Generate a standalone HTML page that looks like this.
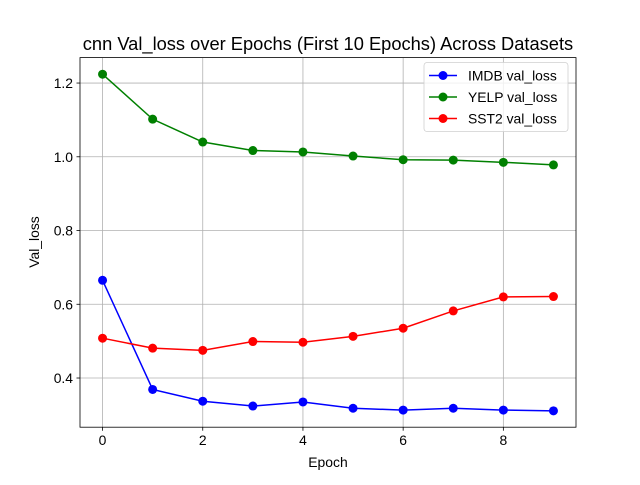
<!DOCTYPE html>
<html><head><meta charset="utf-8"><style>
body{margin:0;background:#fff}
svg text{font-family:"Liberation Sans","DejaVu Sans",sans-serif;fill:#000}
</style></head><body>
<svg id="chart" width="640" height="480" xmlns="http://www.w3.org/2000/svg">
<rect width="640" height="480" fill="#fff"/>
<g id="grid"></g><g id="axes"></g><g id="series"></g><g id="legend"></g>
<text x="328" y="50" font-size="18.3" text-anchor="middle">cnn Val_loss over Epochs (First 10 Epochs) Across Datasets</text>
<text x="328" y="467" font-size="13.9" text-anchor="middle">Epoch</text>
<text transform="translate(39,242) rotate(-90)" font-size="13.9" text-anchor="middle">Val_loss</text>
</svg>
<script>
const epochs=[0,1,2,3,4,5,6,7,8,9];
const imdb=[0.665,0.369,0.337,0.324,0.335,0.318,0.313,0.318,0.313,0.311];
const yelp=[1.224,1.102,1.040,1.017,1.013,1.002,0.992,0.991,0.985,0.978];
const sst2=[0.508,0.481,0.475,0.499,0.497,0.513,0.535,0.582,0.620,0.621];
const xTicks=[0,2,4,6,8];
const yTicks=[0.4,0.6,0.8,1.0,1.2];
const seriesNames=["IMDB val_loss","YELP val_loss","SST2 val_loss"];
const L=80,R=576,T=57.6,B=427.2;
const xMin=-0.45,xMax=9.45,yMin=0.2666,yMax=1.269;
const X=v=>L+(v-xMin)/(xMax-xMin)*(R-L);
const Y=v=>B-(v-yMin)/(yMax-yMin)*(B-T);
const NS="http://www.w3.org/2000/svg";
function mk(p,t,a){const e=document.createElementNS(NS,t);for(const k in a)e.setAttribute(k,a[k]);p.appendChild(e);return e;}
const grid=document.getElementById('grid'),axes=document.getElementById('axes');
xTicks.forEach(v=>{
 const g=mk(grid,'line',{x1:X(v),x2:X(v),y1:T,y2:B,stroke:'#b0b0b0','stroke-width':0.8});
 
 
 mk(axes,'line',{x1:X(v),x2:X(v),y1:B,y2:B+3.5,stroke:'#000','stroke-width':0.8});
 const t=mk(axes,'text',{x:X(v),y:B+18,'font-size':13.9,'text-anchor':'middle'});t.textContent=v;
 
 
});
yTicks.forEach(v=>{
 const g=mk(grid,'line',{x1:L,x2:R,y1:Y(v),y2:Y(v),stroke:'#b0b0b0','stroke-width':0.8});
 
 
 mk(axes,'line',{x1:L-3.5,x2:L,y1:Y(v),y2:Y(v),stroke:'#000','stroke-width':0.8});
 const t=mk(axes,'text',{x:L-7,y:Y(v)+5,'font-size':13.9,'text-anchor':'end'});t.textContent=v.toFixed(1);
 
 
});
const fr=mk(axes,'rect',{x:L,y:T,width:R-L,height:B-T,fill:'none',stroke:'#000','stroke-width':0.8});


const sg=document.getElementById('series');
const data=[imdb,yelp,sst2],cols=['#0000ff','#008000','#ff0000'];
data.forEach((d,i)=>{
 const p=mk(sg,'polyline',{points:d.map((v,j)=>X(epochs[j])+','+Y(v)).join(' '),fill:'none',stroke:cols[i],'stroke-width':1.5});
 
 
 d.forEach((v,j)=>{const c=mk(sg,'circle',{cx:X(epochs[j]),cy:Y(v),r:4.5,fill:cols[i]});
  
  });
});
const lg=document.getElementById('legend');
const box=mk(lg,'rect',{x:424,y:62.5,width:144,height:69,rx:3,fill:'#fff','fill-opacity':0.8,stroke:'#d0d0d0','stroke-width':0.8});


seriesNames.forEach((n,i)=>{
 const y=75.5+i*21.5;
 mk(lg,'line',{x1:429,x2:457,y1:y,y2:y,stroke:cols[i],'stroke-width':1.5});
 mk(lg,'circle',{cx:443,cy:y,r:4.5,fill:cols[i]});
 const t=mk(lg,'text',{x:468,y:y+5,'font-size':13.9});t.textContent=n;
 
 
});
</script>
</body></html>
